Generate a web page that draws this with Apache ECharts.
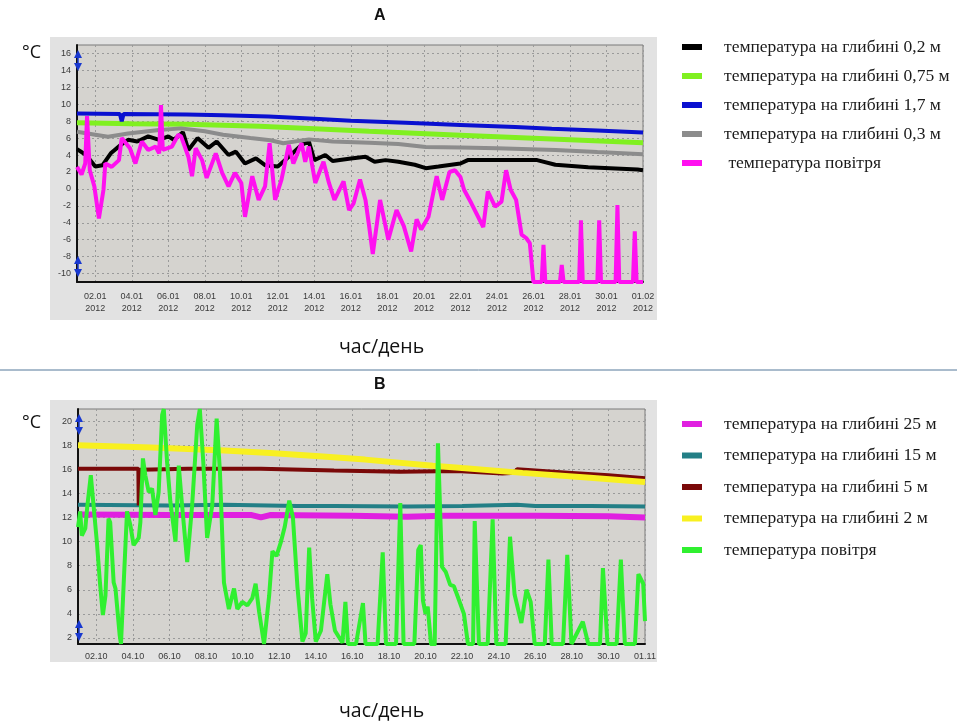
<!DOCTYPE html>
<html><head><meta charset="utf-8">
<script src="https://cdn.jsdelivr.net/npm/echarts@6/dist/echarts.min.js"></script>
<style>html,body{margin:0;padding:0;background:#fff}#c{width:962px;height:727px}</style>
</head><body><div id="c"></div>
<script>
// ---------- Panel A (January 2012), x = days since 01.01 00:00 ----------
const ticksXA = [1,3,5,7,9,11,13,15,17,19,21,23,25,27,29,31];
const labelsXA = ['02.01','04.01','06.01','08.01','10.01','12.01','14.01','16.01','18.01','20.01','22.01','24.01','26.01','28.01','30.01','01.02'];
const yearA = '2012';
const ticksYA = [-10,-8,-6,-4,-2,0,2,4,6,8,10,12,14,16];
const namesA = ['температура на глибині 0,2 м','температура на глибині 0,75 м','температура на глибині 1,7 м','температура на глибині 0,3 м',' температура повітря'];

const depth02A = [[0,4.7],[0.5,4.0],[1.0,2.65],[1.4,2.8],[1.85,4.2],[2.4,5.2],[2.8,5.8],[3.3,5.6],[3.9,6.2],[4.5,5.8],[5.0,6.2],[5.3,5.8],[5.8,6.7],[6.1,4.6],[6.6,6.0],[7.2,4.85],[7.65,5.6],[8.3,4.0],[8.7,4.4],[9.2,3.0],[9.8,3.6],[10.3,2.8],[11.0,2.65],[11.6,3.8],[12.3,5.2],[12.7,5.6],[13.0,3.4],[13.6,4.0],[14.0,3.3],[15.0,3.6],[15.8,3.8],[16.3,3.2],[16.9,3.4],[17.6,3.2],[18.5,2.85],[19.1,2.45],[19.8,2.65],[21.0,3.0],[21.4,3.4],[22.5,3.4],[25.2,3.4],[26.2,2.85],[28,2.55],[30.7,2.3],[31,2.2]];
const depth075A = [[0,7.8],[3,7.7],[6,7.65],[10,7.4],[13,7.1],[16,6.8],[21,6.35],[26,5.9],[31,5.45]];
const depth17A = [[0,8.9],[2.35,8.85],[2.45,8.0],[2.55,8.85],[6,8.8],[8,8.7],[10.5,8.55],[13,8.3],[15,8.05],[18,7.8],[21,7.55],[24,7.3],[26,7.1],[28.5,6.9],[31,6.65]];
const depth03A = [[0,6.75],[1,6.4],[1.7,6.15],[2.8,6.55],[4.5,6.95],[5.7,7.15],[7,6.8],[8,6.4],[9.5,6.0],[10.6,5.75],[11.3,5.4],[12.7,5.85],[14,5.6],[16,5.45],[17.6,5.3],[19.1,4.95],[21,4.9],[23,4.8],[26.2,4.6],[28.5,4.35],[31,4.1]];
const airA = [[0,2.6],[0.25,1.7],[0.45,3.0],[0.55,8.6],[0.7,2.2],[0.95,0.3],[1.2,-3.5],[1.45,-0.1],[1.55,3.0],[1.9,2.6],[2.3,3.4],[2.45,6.0],[2.9,4.8],[3.2,3.0],[3.55,5.6],[3.9,4.6],[4.3,5.0],[4.5,4.2],[4.6,9.9],[4.7,4.6],[5.2,5.0],[5.55,6.4],[5.7,6.2],[6.1,3.8],[6.3,1.5],[6.5,4.8],[6.85,3.4],[7.1,1.3],[7.6,4.2],[7.95,1.9],[8.3,0.3],[8.65,1.9],[9.0,0.7],[9.2,-3.3],[9.6,1.5],[9.95,-1.3],[10.3,0.3],[10.55,5.4],[10.85,-1.3],[11.2,1.1],[11.6,5.2],[11.85,3.0],[12.3,5.4],[12.5,3.2],[12.7,5.0],[13.05,0.7],[13.5,3.2],[13.8,0.7],[14.1,-1.3],[14.6,0.9],[14.9,-2.5],[15.15,-1.7],[15.5,1.1],[15.8,-1.3],[16.0,-4.4],[16.2,-7.7],[16.6,-1.3],[17.05,-6.0],[17.5,-2.5],[17.9,-4.4],[18.3,-7.4],[18.6,-3.6],[18.85,-4.8],[19.25,-3.3],[19.7,1.5],[20.0,-1.3],[20.4,2.0],[20.7,2.2],[21.0,1.4],[21.2,-0.1],[21.6,-1.7],[22.25,-4.5],[22.5,-0.3],[22.9,-2.1],[23.25,-1.5],[23.5,2.2],[23.75,-0.1],[24.05,-1.3],[24.35,-5.4],[24.6,-5.8],[24.8,-6.4],[25.0,-11],[25.45,-11],[25.55,-6.6],[25.65,-11],[26.45,-11],[26.55,-9.0],[26.65,-11],[27.5,-11],[27.6,-3.7],[27.7,-11],[28.5,-11],[28.6,-3.7],[28.7,-11],[29.5,-11],[29.6,-1.9],[29.7,-11],[30.45,-11],[30.55,-5.0],[30.65,-11],[31,-11]];

// ---------- Panel B (October), x = days since 01.10 00:00 ----------
const ticksXB = [1,3,5,7,9,11,13,15,17,19,21,23,25,27,29,31];
const labelsXB = ['02.10','04.10','06.10','08.10','10.10','12.10','14.10','16.10','18.10','20.10','22.10','24.10','26.10','28.10','30.10','01.11'];
const ticksYB = [2,4,6,8,10,12,14,16,18,20];
const namesB = ['температура на глибині 25 м','температура на глибині 15 м','температура на глибині 5 м','температура на глибині 2 м','температура повітря'];

const depth25B = [[0,12.25],[5,12.2],[9.5,12.2],[10,12.0],[10.5,12.2],[15,12.15],[18,12.05],[20,12.15],[25,12.15],[29,12.1],[31,12.0]];
const depth15B = [[0,13.05],[5,13.0],[8,13.05],[12,12.95],[14,12.95],[18,12.9],[21,12.95],[24,13.05],[25,12.95],[28,12.95],[31,12.9]];
const depth5B = [[0,16.05],[3.3,16.05],[3.32,13.0],[3.36,15.95],[6,16.05],[10,16.05],[14,15.9],[17.6,15.8],[20.7,15.85],[23.2,15.65],[23.9,15.7],[24.0,16.0],[27,15.7],[29,15.5],[31,15.25]];
const depth2B = [[0,18.0],[4,17.8],[8,17.55],[10.5,17.35],[13,17.1],[15.7,16.8],[19.4,16.3],[21,16.1],[24.3,15.7],[28,15.3],[31,14.95]];
const airB = [[0,11.2],[0.12,12.5],[0.21,10.5],[0.4,11.1],[0.5,12.8],[0.7,15.5],[0.85,13.0],[1.03,10.0],[1.2,6.6],[1.36,3.9],[1.5,5.5],[1.67,11.9],[1.76,11.6],[1.95,6.6],[2.05,6.1],[2.28,2.2],[2.35,1.5],[2.5,6.6],[2.68,12.5],[2.86,11.4],[3.04,9.7],[3.32,10.3],[3.41,11.6],[3.55,16.9],[3.68,15.5],[3.87,14.1],[4.05,14.4],[4.23,12.2],[4.41,14.1],[4.6,20.5],[4.69,21],[4.87,16.6],[5.05,13.3],[5.33,10.0],[5.51,16.3],[5.69,13.0],[5.97,8.3],[6.24,13.0],[6.52,19.7],[6.66,21],[6.85,16.6],[7.06,10.3],[7.34,13.0],[7.58,20.2],[7.76,15.8],[7.98,6.6],[8.25,4.4],[8.53,6.1],[8.71,4.4],[8.98,5.0],[9.26,4.7],[9.53,5.3],[9.71,6.5],[9.9,4.2],[10.17,1.5],[10.45,5.5],[10.63,9.2],[10.85,8.8],[11.1,10.0],[11.3,11.2],[11.55,13.4],[11.75,12.0],[12.0,6.2],[12.27,1.7],[12.45,2.4],[12.64,9.5],[12.8,5.3],[13.0,1.7],[13.28,2.6],[13.63,7.3],[13.8,4.8],[14.05,2.6],[14.46,1.6],[14.62,5.0],[14.76,1.5],[15.2,1.5],[15.58,4.9],[15.72,1.5],[16.38,1.5],[16.66,9.1],[16.84,1.5],[17.39,1.5],[17.62,13.2],[17.8,1.5],[18.39,1.5],[18.6,9.3],[18.74,9.7],[18.86,5.1],[19.0,4.0],[19.12,4.6],[19.3,1.5],[19.5,1.4],[19.68,18.15],[19.9,7.9],[20.1,7.5],[20.35,6.4],[20.55,6.3],[20.77,5.4],[21.1,4.0],[21.32,1.5],[21.6,1.5],[21.69,11.7],[21.92,1.5],[22.4,1.5],[22.67,11.85],[22.87,1.5],[23.38,1.5],[23.62,10.4],[23.87,5.6],[24.24,3.25],[24.52,6.0],[24.75,5.0],[24.97,1.5],[25.52,1.5],[25.72,8.5],[25.9,1.5],[26.52,1.5],[26.75,8.9],[26.98,1.5],[27.6,3.35],[27.9,1.5],[28.54,1.5],[28.7,7.8],[28.95,1.5],[29.45,1.5],[29.68,8.5],[29.9,1.5],[30.45,1.5],[30.64,7.3],[30.9,6.5],[31,3.4]];

const colorsA = ['#000000','#80f020','#0a10d0','#8c8c8c','#ff10f0'];
const colorsB = ['#e020e0','#237f86','#7a0808','#f8f020','#30f030'];

const chart = echarts.init(document.getElementById('c'), null, {renderer:'canvas'});
const tickFont = {fontFamily:'Liberation Sans', fontSize:9, color:'#3a3a3a'};
const gridLine = {show:true, lineStyle:{color:'#9a9a9a', type:[2,3], width:1}};

function xAxis(gi, ticks, labels, twoLine){
  return {type:'value', gridIndex:gi, min:0, max:31,
    axisLine:{show:true, onZero:false, lineStyle:{color:'#111', width:2}},
    axisTick:{show:false, customValues:ticks},
    axisLabel:Object.assign({customValues:ticks, margin:twoLine?9:7, lineHeight:12,
      formatter:v=>{const i=ticks.indexOf(v); const l=i>=0?labels[i]:''; return twoLine? l+'\n'+yearA : l;}}, tickFont),
    splitLine:gridLine};
}
function yAxis(gi, min, max, ticks){
  return {type:'value', gridIndex:gi, min:min, max:max,
    axisLine:{show:true, onZero:false, lineStyle:{color:'#111', width:2}},
    axisTick:{show:false, customValues:ticks},
    axisLabel:Object.assign({customValues:ticks, margin:6}, tickFont),
    splitLine:gridLine};
}
function line(name, data, color, width, xi){
  return {type:'line', name:name, data:data, xAxisIndex:xi, yAxisIndex:xi,
    showSymbol:false, symbol:'none', clip:true, color:color,
    lineStyle:{color:color, width:width}, animation:false};
}
function arrows(x, yTop, color){
  return [
    {type:'polygon', z:50, shape:{points:[[x,yTop],[x-4,yTop+8],[x+4,yTop+8]]}, style:{fill:color}},
    {type:'polygon', z:50, shape:{points:[[x-4,yTop+13],[x+4,yTop+13],[x,yTop+21]]}, style:{fill:color}},
    {type:'line', z:50, shape:{x1:x,y1:yTop+6,x2:x,y2:yTop+16}, style:{stroke:color, lineWidth:1.5}}
  ];
}
const legendText = {fontFamily:'Liberation Serif', fontSize:17.5, color:'#1a1a1a', padding:[0,0,0,17]};
const arrowColor = '#1838d0';

chart.setOption({
  backgroundColor:'#ffffff',
  animation:false,
  grid:[
    {left:77, top:45, width:566, height:237, show:true, backgroundColor:'#d5d3cf', borderColor:'#7a7a7a', borderWidth:1},
    {left:78, top:409, width:567, height:235, show:true, backgroundColor:'#d5d3cf', borderColor:'#7a7a7a', borderWidth:1}
  ],
  xAxis:[xAxis(0, ticksXA, labelsXA, true), xAxis(1, ticksXB, labelsXB, false)],
  yAxis:[yAxis(0, -11, 17, ticksYA), yAxis(1, 1.5, 21, ticksYB)],
  legend:[
    {data:namesA, orient:'vertical', left:677, top:33, itemWidth:20, itemHeight:6, itemGap:11, icon:'rect', textStyle:legendText, selectedMode:false},
    {data:namesB, orient:'vertical', left:677, top:410, itemWidth:20, itemHeight:6, itemGap:13.5, icon:'rect', textStyle:legendText, selectedMode:false}
  ],
  graphic:[
    {type:'rect', z:-10, shape:{x:50,y:37,width:607,height:283}, style:{fill:'#e2e2e2'}},
    {type:'rect', z:-10, shape:{x:50,y:400,width:607,height:262}, style:{fill:'#e2e2e2'}},
    {type:'text', left:374, top:8, style:{text:'A', font:'bold 16px "Liberation Sans"', fill:'#111'}},
    {type:'text', left:374, top:377, style:{text:'B', font:'bold 16px "Liberation Sans"', fill:'#111'}},
    {type:'text', left:22, top:44, style:{text:'°C', font:'18px "Open Sans"', fill:'#111'}},
    {type:'text', left:22, top:414, style:{text:'°C', font:'18px "Open Sans"', fill:'#111'}},
    {type:'text', left:339, top:337, style:{text:'час/день', font:'19.5px "Open Sans"', fill:'#111'}},
    {type:'text', left:339, top:701, style:{text:'час/день', font:'19.5px "Open Sans"', fill:'#111'}},
    {type:'line', shape:{x1:0,y1:370,x2:957,y2:370}, style:{stroke:'#55789a', lineWidth:1}},
    ...arrows(78, 50, arrowColor), ...arrows(78, 256, arrowColor),
    ...arrows(79, 414, arrowColor), ...arrows(79, 620, arrowColor)
  ],
  series:[
    line(namesA[0], depth02A, colorsA[0], 4, 0),
    line(namesA[1], depth075A, colorsA[1], 5, 0),
    line(namesA[2], depth17A, colorsA[2], 4, 0),
    line(namesA[3], depth03A, colorsA[3], 4, 0),
    line(namesA[4], airA, colorsA[4], 4, 0),
    line(namesB[0], depth25B, colorsB[0], 6, 1),
    line(namesB[1], depth15B, colorsB[1], 4, 1),
    line(namesB[2], depth5B, colorsB[2], 4, 1),
    line(namesB[3], depth2B, colorsB[3], 6, 1),
    line(namesB[4], airB, colorsB[4], 4, 1)
  ]
});
</script></body></html>
